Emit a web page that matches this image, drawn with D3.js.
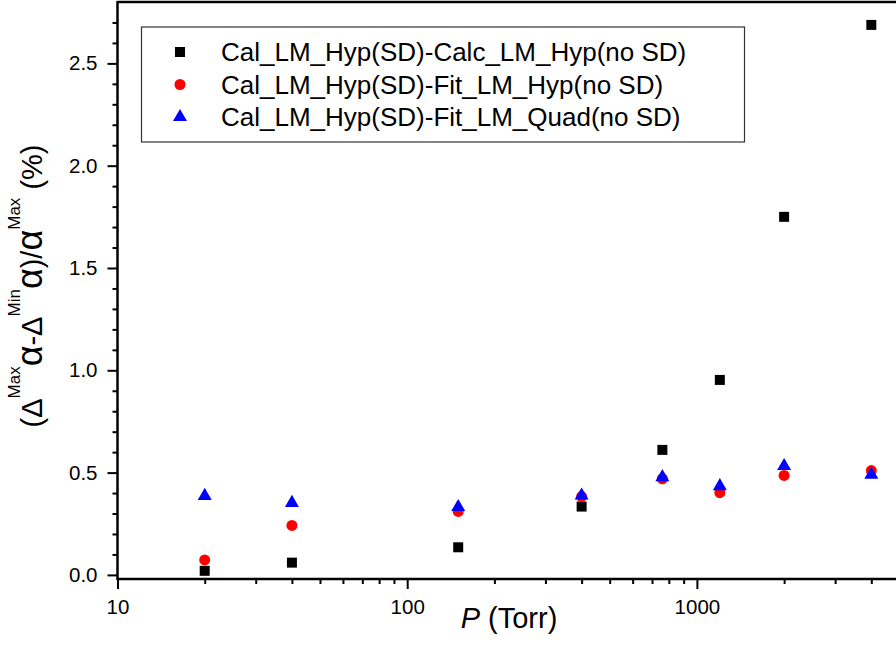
<!DOCTYPE html>
<html>
<head>
<meta charset="utf-8">
<script src="https://cdn.jsdelivr.net/npm/d3@7"></script>
<style>
  body { margin: 0; background: #fff; }
  svg { display: block; font-family: Arial, "Liberation Sans", sans-serif; }
</style>
</head>
<body>
<div id="wrapper"></div>
<script>
// pressures (Torr)
const pressures = [20, 40, 150, 400, 760, 1200, 2000, 4000];
// differences (%)
const calcHyp = [0.02, 0.06, 0.135, 0.334, 0.611, 0.953, 1.75, 2.688];
const fitHyp = [0.073, 0.242, 0.31, 0.383, 0.47, 0.402, 0.486, 0.51];
const fitQuad = [0.386, 0.352, 0.332, 0.388, 0.478, 0.434, 0.532, 0.49];
const seriesNames = [
    "Cal_LM_Hyp(SD)-Calc_LM_Hyp(no SD)",
    "Cal_LM_Hyp(SD)-Fit_LM_Hyp(no SD)",
    "Cal_LM_Hyp(SD)-Fit_LM_Quad(no SD)"
];
const xTickValues = [10, 100, 1000];
const yTickValues = [0, 0.5, 1.0, 1.5, 2.0, 2.5];

function buildPlot() {
    const dimension = { width: 896, height: 646 };

    const svg = d3.select("#wrapper").append("svg")
        .attr("width", dimension.width)
        .attr("height", dimension.height);

    // log axis, one decade ~290px; picture is cut at the right edge
    const xScaler = d3.scaleLog()
        .domain([10, 10000])
        .range([117.5, 117.5 + 3 * 289.7]);
    const yScaler = d3.scaleLinear()
        .domain([-0.02, 2.8])
        .range([579, 2]);

    const series = [
        { name: seriesNames[0], values: calcHyp, color: "#000000", symbol: d3.symbolSquare, size: 100 },
        { name: seriesNames[1], values: fitHyp, color: "#ff0000", symbol: d3.symbolCircle, size: 95 },
        { name: seriesNames[2], values: fitQuad, color: "#0000ff", symbol: d3.symbolTriangle, size: 85 }
    ];

    // axes
    const minorX = [];
    [10, 100, 1000].forEach(dec => {
        for (let k = 2; k <= 9; k++) minorX.push(dec * k);
    });
    const minorY = d3.range(0, 28).map(i => i / 10).filter(v => Math.round(v * 10) % 5 !== 0);

    const xAxis = d3.axisBottom(xScaler)
        .tickValues(xTickValues)
        .tickFormat(d3.format("d"))
        .tickSize(10)
        .tickPadding(10);
    const xMinor = d3.axisBottom(xScaler)
        .tickValues(minorX)
        .tickFormat("")
        .tickSize(5);

    svg.append("g")
        .attr("transform", "translate(0, 579)")
        .call(xAxis);
    svg.append("g")
        .attr("transform", "translate(0, 579)")
        .call(xMinor);

    const yAxis = d3.axisLeft(yScaler)
        .tickValues(yTickValues)
        .tickFormat(d3.format(".1f"))
        .tickSize(10)
        .tickPadding(10);
    const yMinor = d3.axisLeft(yScaler)
        .tickValues(minorY)
        .tickFormat("")
        .tickSize(5);

    svg.append("g")
        .attr("transform", "translate(117.5, 0)")
        .call(yAxis);
    svg.append("g")
        .attr("transform", "translate(117.5, 0)")
        .call(yMinor);

    svg.selectAll(".domain").remove();
    svg.selectAll(".tick line").attr("stroke", "#000").attr("stroke-width", 2);
    svg.selectAll(".tick text")
        .attr("fill", "#000")
        .style("font-size", "20.5px")
        .style("font-family", "Arial, 'Liberation Sans', sans-serif");

    // frame lines
    svg.append("line")
        .attr("x1", 117.5).attr("x2", 896)
        .attr("y1", 579).attr("y2", 579)
        .attr("stroke", "#000").attr("stroke-width", 2.5);
    svg.append("line")
        .attr("x1", 117.5).attr("x2", 896)
        .attr("y1", 2).attr("y2", 2)
        .attr("stroke", "#000").attr("stroke-width", 2.5);
    svg.append("line")
        .attr("x1", 117.5).attr("x2", 117.5)
        .attr("y1", 1).attr("y2", 580)
        .attr("stroke", "#000").attr("stroke-width", 2.5);

    // points
    series.forEach(s => {
        svg.append("g")
            .selectAll("path")
            .data(pressures.map((p, i) => ({ p: p, v: s.values[i] })))
            .join("path")
            .attr("d", d3.symbol().type(s.symbol).size(s.size))
            .attr("transform", d => `translate(${xScaler(d.p)}, ${yScaler(d.v)})`)
            .attr("fill", s.color);
    });

    // legend
    const legend = svg.append("g");
    legend.append("rect")
        .attr("x", 141.5).attr("y", 27)
        .attr("width", 603).attr("height", 115)
        .attr("fill", "#fff")
        .attr("stroke", "#333").attr("stroke-width", 1.2);
    series.forEach((s, i) => {
        const yRow = 52 + i * 32.5;
        legend.append("path")
            .attr("d", d3.symbol().type(s.symbol).size(s.size))
            .attr("transform", `translate(180, ${yRow})`)
            .attr("fill", s.color);
        legend.append("text")
            .attr("x", 221).attr("y", yRow + 9)
            .style("font-size", "26px")
            .text(s.name);
    });

    // x title
    svg.append("text")
        .attr("x", 509).attr("y", 628)
        .attr("text-anchor", "middle")
        .style("font-size", "29px")
        .call(t => {
            t.append("tspan").style("font-style", "italic").text("P");
            t.append("tspan").text(" (Torr)");
        });

    // y title with raised superscripts
    const yTitle = svg.append("text")
        .attr("transform", "translate(42, 286) rotate(-90)")
        .attr("text-anchor", "middle")
        .style("font-size", "29px");
    const sup = 22;
    const part = (txt, size, dy) => {
        const t = yTitle.append("tspan").text(txt);
        if (size) t.style("font-size", size + "px");
        if (dy) t.attr("dy", dy);
    };
    part("(Δ");
    part("Max", 17, -sup);
    part("α", 36, sup);
    part("-Δ");
    part("Min", 17, -sup);
    part("α", 36, sup);
    part(")/");
    part("α", 36);
    part("Max", 17, -sup);
    part(" (%)", null, sup);
}

buildPlot();
</script>
</body>
</html>
